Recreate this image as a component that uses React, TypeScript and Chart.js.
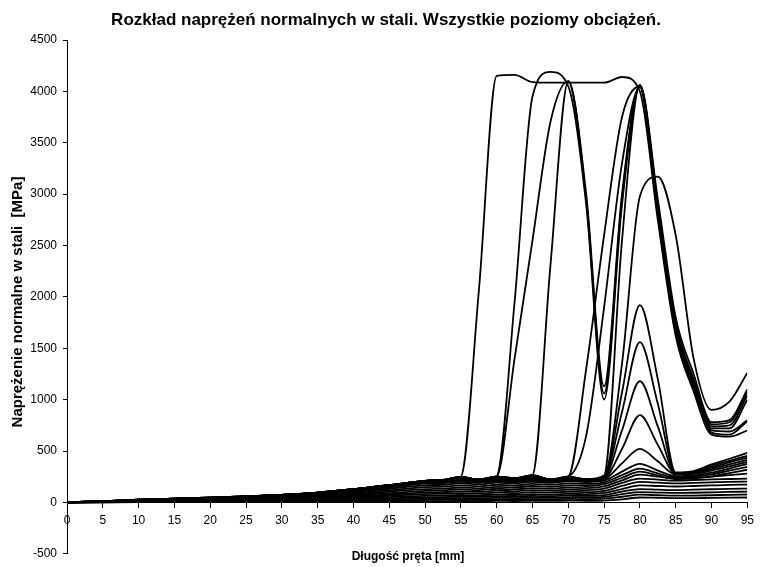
import React, { useEffect, useRef } from "react";
import { Chart, registerables } from "chart.js";

Chart.register(...registerables);

const TITLE = "Rozkład naprężeń normalnych w stali. Wszystkie poziomy obciążeń.";
const X_TITLE = "Długość pręta [mm]";
const Y_TITLE = "Naprężenie normalne w stali  [MPa]";

// positions along the bar [mm]
const X = [0, 5, 10, 15, 20, 25, 30, 35, 40, 45, 50, 52.5, 55, 57.5, 60, 62.5, 65, 67.5, 70, 72.5, 75, 77.5, 80, 82.5, 85, 87.5, 90, 92.5, 95];

// stress [MPa], one array per load level
const L1 = [0, 1, 2, 2, 3, 4, 5, 6, 8, 10, 12, 13, 14, 13, 15, 14, 16, 15, 17, 16, 18, 30, 48, 45, 42, 42, 44, 46, 48];
const L2 = [0, 1, 3, 4, 6, 7, 9, 12, 16, 20, 25, 26, 28, 26, 30, 28, 32, 30, 34, 32, 36, 55, 75, 70, 66, 67, 70, 74, 77];
const L3 = [0, 2, 4, 6, 8, 10, 13, 17, 23, 30, 37, 39, 42, 40, 45, 42, 48, 45, 50, 48, 54, 80, 100, 96, 92, 94, 98, 102, 106];
const L4 = [0, 3, 6, 8, 11, 14, 18, 23, 31, 40, 50, 52, 56, 53, 60, 56, 64, 60, 66, 63, 72, 105, 130, 125, 120, 124, 128, 132, 135];
const L5 = [0, 3, 7, 10, 14, 18, 23, 30, 40, 52, 64, 67, 72, 68, 76, 72, 80, 76, 84, 80, 92, 130, 165, 160, 155, 160, 165, 170, 174];
const L6 = [0, 4, 9, 13, 17, 22, 29, 37, 50, 65, 80, 84, 90, 85, 95, 90, 100, 95, 104, 100, 112, 160, 200, 192, 185, 190, 195, 200, 203];
const L7 = [0, 5, 11, 15, 21, 26, 35, 45, 60, 78, 96, 100, 108, 102, 114, 108, 120, 114, 125, 120, 134, 190, 232, 222, 212, 218, 224, 228, 232];
const L8 = [0, 6, 13, 18, 24, 30, 40, 52, 70, 91, 112, 117, 126, 119, 133, 126, 140, 133, 145, 140, 156, 215, 270, 250, 232, 240, 252, 266, 280];
const L9 = [0, 7, 15, 21, 28, 35, 46, 60, 80, 105, 130, 135, 145, 137, 152, 145, 160, 152, 165, 160, 178, 240, 299, 262, 228, 234, 254, 285, 318];
const L10 = [0, 8, 17, 24, 32, 40, 52, 68, 91, 119, 148, 154, 165, 156, 172, 164, 180, 172, 185, 180, 196, 265, 328, 282, 242, 250, 272, 310, 347];
const L11 = [0, 9, 19, 27, 36, 45, 58, 76, 102, 133, 166, 172, 185, 175, 192, 184, 200, 190, 205, 198, 212, 300, 376, 310, 255, 262, 290, 330, 376];
const M1 = [0, 10, 21, 30, 39, 49, 63, 82, 110, 145, 182, 188, 200, 190, 205, 196, 212, 200, 215, 205, 222, 380, 521, 400, 272, 278, 310, 350, 395];
const M2 = [0, 10, 22, 31, 41, 51, 66, 85, 115, 152, 192, 198, 212, 200, 215, 206, 222, 210, 226, 214, 232, 520, 849, 560, 280, 285, 325, 370, 415];
const M3 = [0, 11, 23, 33, 43, 53, 68, 88, 119, 157, 198, 205, 222, 208, 225, 214, 232, 216, 236, 218, 240, 700, 1180, 740, 285, 292, 340, 390, 435];
const M4 = [0, 11, 24, 34, 44, 55, 70, 90, 122, 161, 202, 210, 230, 214, 235, 222, 245, 220, 242, 220, 246, 880, 1560, 960, 288, 298, 355, 405, 454];
const M5 = [0, 11, 24, 34, 45, 56, 71, 92, 124, 163, 205, 212, 235, 218, 240, 226, 252, 222, 246, 222, 250, 1070, 1920, 1200, 292, 305, 370, 425, 483];
const M6 = [0, 12, 25, 35, 46, 57, 72, 93, 125, 165, 207, 214, 240, 222, 248, 232, 260, 224, 250, 224, 258, 1350, 2980, 3170, 2600, 1400, 900, 980, 1260];
const H1 = [0, 12, 26, 36, 47, 58, 74, 95, 128, 168, 210, 218, 246, 222, 250, 234, 262, 224, 250, 226, 262, 2550, 4060, 2950, 1800, 1250, 780, 800, 1100];
const H2 = [0, 12, 26, 36, 47, 58, 74, 95, 128, 168, 210, 218, 247, 222, 250, 235, 264, 222, 252, 1300, 2600, 3750, 4050, 2900, 1750, 1200, 760, 780, 1070];
const H3 = [0, 12, 26, 36, 47, 58, 74, 95, 128, 168, 210, 218, 248, 222, 251, 235, 265, 222, 250, 650, 1900, 3300, 4040, 2850, 1720, 1170, 740, 750, 1040];
const H4 = [0, 12, 26, 36, 47, 58, 74, 95, 128, 168, 210, 218, 248, 222, 250, 235, 266, 2300, 4100, 3000, 1130, 3000, 4050, 2850, 1700, 1150, 720, 720, 1000];
const H5 = [0, 12, 26, 36, 47, 58, 74, 95, 128, 168, 210, 218, 248, 222, 252, 1400, 2550, 3700, 4100, 2950, 1060, 2950, 4050, 2800, 1680, 1120, 700, 690, 800];
const H6 = [0, 12, 26, 36, 47, 58, 74, 95, 128, 168, 210, 218, 248, 222, 255, 1950, 3950, 4190, 4050, 2900, 1000, 2900, 4060, 2800, 1650, 1100, 680, 660, 790];
const H7 = [0, 12, 26, 36, 47, 58, 74, 95, 128, 168, 210, 218, 250, 2050, 4150, 4160, 4090, 4085, 4085, 4085, 4085, 4140, 4000, 2750, 1620, 1080, 660, 640, 700];

const SERIES = [L1, L2, L3, L4, L5, L6, L7, L8, L9, L10, L11, M1, M2, M3, M4, M5, M6, H1, H2, H3, H4, H5, H6, H7];

const Y_MIN = -500;
const Y_MAX = 4500;
const Y_STEP = 500;
const X_MIN = 0;
const X_MAX = 95;
const X_STEP = 5;

const FONT = '"Liberation Sans", Arial, sans-serif';

const textPlugin = {
  id: "texts",
  afterDraw(chart: any) {
    const ctx = chart.ctx;
    ctx.save();
    ctx.fillStyle = "#000";
    ctx.textAlign = "center";
    ctx.textBaseline = "middle";
    ctx.font = `bold 17px ${FONT}`;
    ctx.fillText(TITLE, 386, 20);
    ctx.font = `bold 12px ${FONT}`;
    ctx.fillText(X_TITLE, 408, 557);
    ctx.font = `bold 15px ${FONT}`;
    ctx.translate(18, 302);
    ctx.rotate(-Math.PI / 2);
    ctx.fillText(Y_TITLE, 0, 0);
    ctx.restore();
  },
};

export default function App() {
  const ref = useRef<HTMLCanvasElement | null>(null);

  useEffect(() => {
    if (!ref.current) return;
    const chart = new Chart(ref.current, {
      type: "line",
      data: {
        datasets: SERIES.map((s, k) => ({
          label: "S" + (k + 1),
          data: X.map((x, i) => ({ x, y: s[i] })),
          borderColor: "#000",
          backgroundColor: "#000",
          borderWidth: 1.8,
          pointRadius: 0,
          fill: false,
          cubicInterpolationMode: "monotone" as const,
        })),
      },
      options: {
        responsive: false,
        animation: false,
        devicePixelRatio: 1,
        layout: { padding: { top: 40, bottom: 9, right: 11, left: 0 } },
        plugins: {
          legend: { display: false },
          title: { display: false },
          tooltip: { enabled: false },
        },
        scales: {
          x: {
            type: "linear",
            min: X_MIN,
            max: X_MAX,
            position: { y: 0 } as any,
            grid: { display: true, drawOnChartArea: false, drawTicks: true, tickLength: 5, color: "#000" },
            border: { display: true, color: "#000", width: 1 },
            ticks: {
              stepSize: X_STEP,
              autoSkip: false,
              maxRotation: 0,
              padding: 6,
              color: "#000",
              font: { family: FONT, size: 12 },
              callback: (v: any) => String(v),
            },
          },
          y: {
            type: "linear",
            min: Y_MIN,
            max: Y_MAX,
            grid: { display: true, drawOnChartArea: false, drawTicks: true, tickLength: 4, color: "#000" },
            border: { display: true, color: "#000", width: 1 },
            ticks: {
              stepSize: Y_STEP,
              padding: 6,
              color: "#000",
              font: { family: FONT, size: 12 },
              callback: (v: any) => String(v),
            },
            afterFit(scale: any) {
              scale.width = 67;
            },
          },
        },
      },
      plugins: [textPlugin],
    });
    return () => chart.destroy();
  }, []);

  return (
    <div style={{ position: "absolute", left: 0, top: 0, width: 760, height: 567, background: "#fff" }}>
      <canvas ref={ref} width={760} height={567} />
    </div>
  );
}
